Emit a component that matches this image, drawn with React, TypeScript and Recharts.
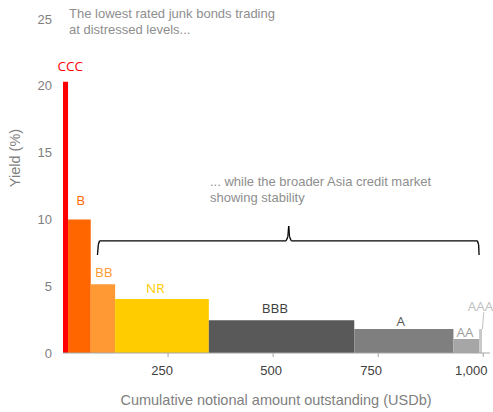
import React from "react"
import { ComposedChart, Area, XAxis, YAxis, ReferenceLine, LabelList } from "recharts"

// Rating buckets, notional outstanding (USDb) and yield (%)
const ratings = ["CCC", "B", "BB", "NR", "BBB", "A", "AA", "AAA"]
const amounts = [12, 54, 58, 223, 346, 236, 61, 7]
const yields = [20.3, 10.0, 5.15, 4.05, 2.45, 1.8, 1.05, 1.8]

const xTicks = [250, 500, 750, 1000]
const yTicks = [0, 5, 10, 15, 20, 25]

// bracket annotation, in data units
const bracketPoints = [
  { x: 82, y: 7.33 }, { x: 84, y: 8.1 }, { x: 87, y: 8.4 },
  { x: 531, y: 8.4 }, { x: 535, y: 8.7 }, { x: 537, y: 9.5 }, { x: 539, y: 8.7 }, { x: 543, y: 8.4 },
  { x: 986, y: 8.4 }, { x: 989, y: 8.1 }, { x: 990, y: 7.33 },
]
const aaaLeader = [{ x: 998, y: 1.8 }, { x: 1001, y: 3.05 }]

const fills: Record<string, string> = {
  CCC: "#ff0000", B: "#ff6600", BB: "#ff9933", NR: "#ffcc00",
  BBB: "#595959", A: "#7f7f7f", AA: "#a6a6a6", AAA: "#c9c9c9",
}
const labelStyle: Record<string, { color: string; dx: number; dy: number }> = {
  CCC: { color: "#ff0000", dx: 4.7, dy: 11 },
  B: { color: "#ff6600", dx: 1.3, dy: 14 },
  BB: { color: "#ff9933", dx: 0.8, dy: 7.6 },
  NR: { color: "#ffcc00", dx: -6.7, dy: 6 },
  BBB: { color: "#404040", dx: -6.7, dy: 7 },
  A: { color: "#595959", dx: -3, dy: 3.3 },
  AA: { color: "#a0a0a0", dx: -1.3, dy: 2.3 },
  AAA: { color: "#bfbfbf", dx: 0, dy: 18 },
}
// tick labels sit a little left of their tick marks in the original
const tickShift: Record<number, number> = { 250: -6, 500: -2, 750: -7, 1000: -12 }

const segments = (() => {
  let start = 0
  return ratings.map((r, i) => {
    const end = start + amounts[i]
    const s = {
      name: r,
      data: [
        { x: start, y: yields[i] },
        { x: (start + end) / 2, y: yields[i] },
        { x: end, y: yields[i] },
      ],
    }
    start = end
    return s
  })
})()

const font = "'Liberation Sans', Arial, sans-serif"
const noteStyle: React.CSSProperties = {
  position: "absolute",
  fontFamily: font,
  fontSize: 13,
  lineHeight: "16px",
  color: "#8e8e8e",
  whiteSpace: "nowrap",
}

const XTick = (p: any) => (
  <text
    x={p.x + (tickShift[p.payload.value] || 0)}
    y={p.y}
    dy="0.71em"
    textAnchor="middle"
    fill="#404040"
    fontSize={13}
    fontFamily={font}
  >
    {p.payload.value.toLocaleString("en-US")}
  </text>
)

export default function App() {
  return (
    <div style={{ position: "absolute", left: 0, top: 0, width: 493, height: 412, background: "#fff" }}>
      <ComposedChart width={493} height={412} margin={{ top: 19, right: 3, bottom: 0, left: 0 }}>
        <XAxis
          type="number"
          dataKey="x"
          domain={[0, 1016]}
          ticks={xTicks}
          interval={0}
          allowDataOverflow
          height={59}
          stroke="#a6a6a6"
          tickSize={4}
          tickMargin={9}
          tick={<XTick />}
        />
        <YAxis
          type="number"
          domain={[0, 25]}
          ticks={yTicks}
          width={63}
          axisLine={false}
          tickLine={false}
          tickSize={0}
          tickMargin={11}
          tick={{ fill: "#808080", fontSize: 13, fontFamily: font }}
        />
        {segments.map((s) => (
          <Area
            key={s.name}
            data={s.data}
            dataKey="y"
            type="linear"
            fill={fills[s.name]}
            fillOpacity={1}
            stroke="none"
            isAnimationActive={false}
          >
            <LabelList
              dataKey="y"
              content={(p: any) =>
                p.index === 1 ? (
                  <text
                    x={p.x + labelStyle[s.name].dx}
                    y={p.y - labelStyle[s.name].dy}
                    textAnchor="middle"
                    fill={labelStyle[s.name].color}
                    fontSize={13.5}
                    fontFamily="'Open Sans', sans-serif"
                  >
                    {s.name}
                  </text>
                ) : null
              }
            />
          </Area>
        ))}
        {bracketPoints.slice(1).map((p, i) => (
          <ReferenceLine
            key={"b" + i}
            segment={[bracketPoints[i], p]}
            stroke="#000"
            strokeWidth={1.3}
            ifOverflow="visible"
          />
        ))}
        <ReferenceLine segment={aaaLeader} stroke="#bfbfbf" strokeWidth={1} ifOverflow="visible" />
      </ComposedChart>

      <div style={{ ...noteStyle, left: 69, top: 6 }}>
        The lowest rated junk bonds trading
        <br />
        at distressed levels...
      </div>
      <div style={{ ...noteStyle, left: 210, top: 174 }}>
        ... while the broader Asia credit market
        <br />
        showing stability
      </div>
      <div
        style={{
          ...noteStyle,
          fontSize: 14.5,
          color: "#808080",
          left: 276,
          top: 400,
          transform: "translate(-50%, -50%)",
        }}
      >
        Cumulative notional amount outstanding (USDb)
      </div>
      <div
        style={{
          ...noteStyle,
          fontSize: 14.5,
          color: "#808080",
          left: 15,
          top: 158,
          transform: "translate(-50%, -50%) rotate(-90deg)",
        }}
      >
        Yield (%)
      </div>
    </div>
  )
}
